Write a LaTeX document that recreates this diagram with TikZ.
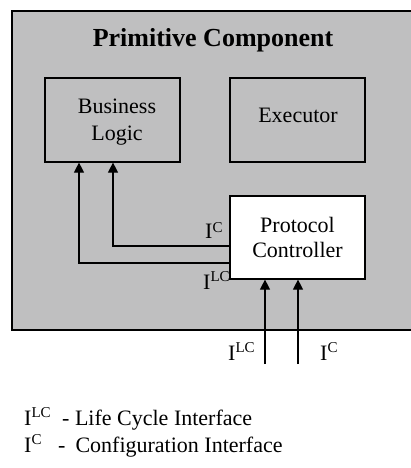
\documentclass[tikz,border=0pt]{standalone}
\usepackage{fontspec}
\setmainfont{Liberation Serif}
\usetikzlibrary{arrows.meta}
\newcommand{\ifc}[2][6pt]{I\raisebox{#1}{\fontsize{15pt}{15pt}\selectfont #2}}
\definecolor{panelgray}{RGB}{191,191,192}
\tikzset{
  box/.style={draw=black, line width=1.2pt, minimum width=135pt, minimum height=84pt, inner sep=0pt, align=center, font=\fontsize{22pt}{26pt}\selectfont},
  lbl/.style={inner sep=0pt, anchor=base west, font=\fontsize{22pt}{26pt}\selectfont},
  conn/.style={line width=1.2pt, -{Triangle[width=10pt,length=10pt]}}
}
\begin{document}
\begin{tikzpicture}[x=1pt,y=-1pt]
\useasboundingbox (0,0) rectangle (411,468);
% panel
\fill[panelgray] (12,11) rectangle (411,330);
\draw[line width=1.2pt] (411,11) -- (12,11) -- (12,330) -- (411,330);
\node[inner sep=0pt, anchor=base, font=\fontsize{26pt}{30pt}\selectfont\bfseries] (title) at (213,47) {Primitive Component};
% boxes
\node[box, minimum height=84pt] (bl) at (112.5,120) {};
\node[inner sep=0pt, align=center, font=\fontsize{22pt}{27pt}\selectfont, anchor=base] (bltext) at (117,140) {Business\\Logic};
\node[box] (ex) at (297.5,120) {};
\node[inner sep=0pt, font=\fontsize{22pt}{26pt}\selectfont, anchor=base] (extext) at (298,123) {Executor};
\node[box, fill=white, minimum height=83pt] (pc) at (297.5,237.5) {};
\node[inner sep=0pt, align=center, font=\fontsize{22pt}{25pt}\selectfont, anchor=base] (pctext) at (297.5,257) {Protocol\\Controller};
% connectors PC -> BL
\coordinate (a1) at (pc.west |- 0,246);
\coordinate (a2) at (pc.west |- 0,263);
\draw[conn] (a1) -| (bl.south -| 113,0);
\draw[conn] (a2) -| (bl.south -| 79,0);
% incoming arrows
\coordinate (b1) at (265,364);
\coordinate (b2) at (298,364);
\draw[conn] (b1) -- (pc.south -| b1);
\draw[conn] (b2) -- (pc.south -| b2);
% labels
\node[lbl] (lc1) at (205,238) {\ifc[6pt]{C}};
\node[lbl] (lc2) at (203,289) {\ifc[8pt]{LC}};
\node[lbl] (lc3) at (228,360) {\ifc[8pt]{LC}};
\node[lbl] (lc4) at (320,360) {\ifc[8pt]{C}};
% legend
\node[lbl] (leg1) at (24,425) {\makebox[38pt][l]{\ifc[8pt]{LC}}- Life Cycle Interface};
\node[lbl] (leg2) at (24,452) {\makebox[34pt][l]{\ifc[8pt]{C}}-\hspace{10pt}Configuration Interface};
\end{tikzpicture}
\end{document}
